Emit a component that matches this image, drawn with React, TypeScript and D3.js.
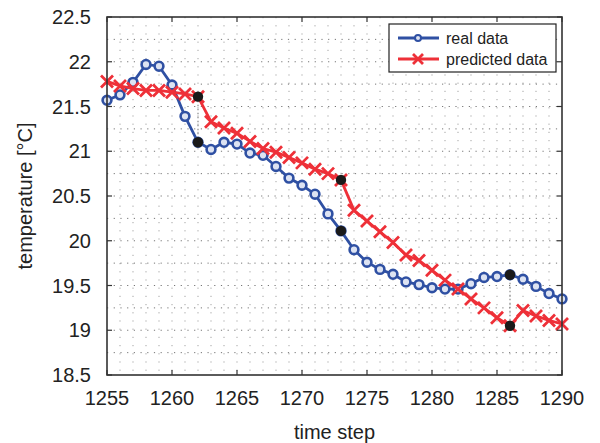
import React from 'react';
import * as d3 from 'd3';

// time steps 1255..1290
const steps = [
  1255, 1256, 1257, 1258, 1259, 1260, 1261, 1262, 1263, 1264, 1265, 1266,
  1267, 1268, 1269, 1270, 1271, 1272, 1273, 1274, 1275, 1276, 1277, 1278,
  1279, 1280, 1281, 1282, 1283, 1284, 1285, 1286, 1287, 1288, 1289, 1290,
];
const realData = [
  21.57, 21.63, 21.77, 21.97, 21.95, 21.74, 21.39, 21.1, 21.02, 21.1, 21.08, 20.98,
  20.955, 20.83, 20.7, 20.62, 20.52, 20.3, 20.11, 19.9, 19.76, 19.68, 19.625, 19.54,
  19.51, 19.475, 19.46, 19.46, 19.52, 19.59, 19.6, 19.62, 19.57, 19.49, 19.41, 19.35,
];
const predictedData = [
  21.78, 21.73, 21.7, 21.68, 21.68, 21.66, 21.64, 21.61, 21.33, 21.26, 21.2, 21.11,
  21.03, 20.99, 20.93, 20.87, 20.8, 20.75, 20.68, 20.34, 20.22, 20.1, 19.98, 19.84,
  19.78, 19.67, 19.56, 19.46, 19.35, 19.25, 19.14, 19.05, 19.22, 19.16, 19.11, 19.07,
];
// steps where a new prediction starts (marked with black dots)
const updateSteps = [1262, 1273, 1286];

const xTicks = [1255, 1260, 1265, 1270, 1275, 1280, 1285, 1290];
const yTicks = [18.5, 19, 19.5, 20, 20.5, 21, 21.5, 22, 22.5];

const W = 600;
const H = 443;
const left = 107, right = 562, top = 17, bottom = 375;
const BLUE = '#2f50a3';
const RED = '#ee3038';
const FONT = '"Liberation Sans", Arial, sans-serif';

export default function App() {
  const x = d3.scaleLinear().domain([1255, 1290]).range([left, right]);
  const y = d3.scaleLinear().domain([18.5, 22.5]).range([bottom, top]);

  const line = d3
    .line<number>()
    .x((_, i) => x(steps[i]))
    .y((d) => y(d));

  const hGrid = d3.range(18.75, 22.5, 0.25);
  const vGrid = d3.range(1256, 1290, 1);

  const cross = (cx: number, cy: number, s: number) =>
    `M${cx - s},${cy - s}L${cx + s},${cy + s}M${cx - s},${cy + s}L${cx + s},${cy - s}`;

  return (
    <svg
      width={W}
      height={H}
      style={{ position: 'absolute', left: 0, top: 0, background: '#fff' }}
      fontFamily={FONT}
    >
      {/* grid */}
      {vGrid.map((t) => (
        <line
          key={'v' + t}
          x1={x(t)}
          x2={x(t)}
          y1={top}
          y2={bottom}
          stroke="#999"
          strokeWidth={0.9}
          strokeDasharray="1.2,7"
        />
      ))}
      {hGrid.map((v) => (
        <line
          key={'h' + v}
          x1={left}
          x2={right}
          y1={y(v)}
          y2={y(v)}
          stroke="#666"
          strokeWidth={0.9}
          strokeDasharray="1.2,5.5"
        />
      ))}

      {/* dotted connectors at update steps */}
      {updateSteps.map((t) => {
        const i = steps.indexOf(t);
        return (
          <line
            key={'c' + t}
            x1={x(t)}
            x2={x(t)}
            y1={y(realData[i])}
            y2={y(predictedData[i])}
            stroke="#888"
            strokeWidth={1.2}
            strokeDasharray="1.5,2.5"
          />
        );
      })}

      {/* real data */}
      <path d={line(realData) || ''} fill="none" stroke={BLUE} strokeWidth={2.8} />
      {realData.map((v, i) => (
        <circle
          key={'r' + i}
          cx={x(steps[i])}
          cy={y(v)}
          r={4.4}
          fill="#dde3f2"
          stroke={BLUE}
          strokeWidth={2.6}
        />
      ))}

      {/* predicted data */}
      <path d={line(predictedData) || ''} fill="none" stroke={RED} strokeWidth={2.8} />
      {predictedData.map((v, i) => (
        <path
          key={'p' + i}
          d={cross(x(steps[i]), y(v), 6)}
          stroke={RED}
          strokeWidth={2.8}
          fill="none"
        />
      ))}

      {/* black dots */}
      {updateSteps.map((t) => {
        const i = steps.indexOf(t);
        return (
          <g key={'b' + t}>
            <circle cx={x(t)} cy={y(realData[i])} r={5.2} fill="#1a1a1a" />
            <circle cx={x(t)} cy={y(predictedData[i])} r={5.2} fill="#1a1a1a" />
          </g>
        );
      })}

      {/* axes box and ticks */}
      <rect
        x={left}
        y={top}
        width={right - left}
        height={bottom - top}
        fill="none"
        stroke="#333"
        strokeWidth={1.6}
      />
      {xTicks.map((t) => (
        <g key={'xt' + t}>
          <line x1={x(t)} x2={x(t)} y1={bottom} y2={bottom - 5} stroke="#333" strokeWidth={1.2} />
          <line x1={x(t)} x2={x(t)} y1={top} y2={top + 5} stroke="#333" strokeWidth={1.2} />
          <text x={x(t)} y={bottom + 30} textAnchor="middle" fontSize={20} fill="#222">
            {t}
          </text>
        </g>
      ))}
      {yTicks.map((v) => (
        <g key={'yt' + v}>
          <line x1={left} x2={left + 5} y1={y(v)} y2={y(v)} stroke="#333" strokeWidth={1.2} />
          <line x1={right} x2={right - 5} y1={y(v)} y2={y(v)} stroke="#333" strokeWidth={1.2} />
          <text x={91} y={y(v) + 7} textAnchor="end" fontSize={20} fill="#222">
            {v}
          </text>
        </g>
      ))}

      {/* axis titles */}
      <text x={(left + right) / 2} y={439} textAnchor="middle" fontSize={20} fill="#222">
        time step
      </text>
      <text
        transform={`translate(32, ${(top + bottom) / 2}) rotate(-90)`}
        textAnchor="middle"
        fontSize={20}
        fill="#222"
      >
        temperature [°C]
      </text>

      {/* legend */}
      <rect x={389} y={24} width={167} height={48} fill="#fff" stroke="#222" strokeWidth={1.2} />
      <line x1={398} x2={439} y1={38} y2={38} stroke={BLUE} strokeWidth={2.8} />
      <circle cx={418} cy={38} r={3} fill="#dde3f2" stroke={BLUE} strokeWidth={2} />
      <text x={446} y={44} fontSize={16} fill="#222">
        real data
      </text>
      <line x1={398} x2={439} y1={59} y2={59} stroke={RED} strokeWidth={2.8} />
      <path d={cross(418, 59, 5)} stroke={RED} strokeWidth={2.8} fill="none" />
      <text x={446} y={65} fontSize={16} fill="#222">
        predicted data
      </text>
    </svg>
  );
}
